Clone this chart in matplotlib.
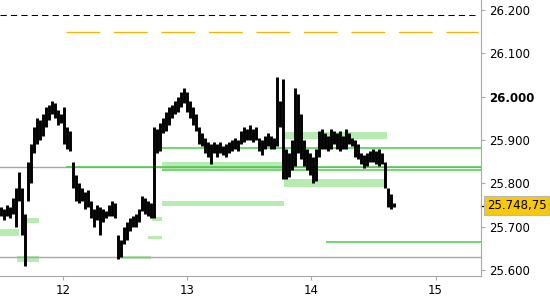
import numpy as np
import matplotlib
matplotlib.use("Agg")
import matplotlib.pyplot as plt
import matplotlib.transforms as mtransforms
from matplotlib.patches import Rectangle

# bar highs / lows (one bar every ~0.024 day)
highs = [25745, 25740, 25750, 25745, 25765, 25790, 25825, 25790, 25730, 25850,
         25890, 25930, 25950, 25945, 25960, 25975, 25980, 25990, 25985, 25970,
         25960, 25975, 25930, 25920, 25850, 25820, 25800, 25790, 25780, 25785,
         25760, 25740, 25750, 25745, 25740, 25735, 25750, 25760, 25755, 25680,
         25670, 25700, 25710, 25720, 25725, 25730, 25740, 25770, 25765, 25760,
         25755, 25930, 25925, 25940, 25950, 25965, 25975, 25980, 25990, 26000,
         26010, 26020, 26010, 25990, 25975, 25960, 25930, 25915, 25905, 25895,
         25890, 25895, 25890, 25895, 25885, 25890, 25895, 25900, 25905, 25900,
         25920, 25930, 25925, 25935, 25925, 25930, 25905, 25900, 25910, 25915,
         25910, 25905, 26045, 25990, 26040, 25880, 25870, 25900, 26020, 26005,
         25960, 25900, 25880, 25870, 25860, 25880, 25920, 25925, 25915, 25910,
         25925, 25920, 25915, 25920, 25910, 25925, 25915, 25905, 25900, 25890,
         25870, 25865, 25870, 25875, 25880, 25875, 25880, 25870, 25850, 25790,
         25775, 25755]
lows = [25725, 25715, 25725, 25720, 25730, 25700, 25760, 25680, 25610, 25760,
        25800, 25870, 25890, 25900, 25910, 25930, 25945, 25960, 25950, 25935,
        25940, 25890, 25880, 25875, 25790, 25760, 25755, 25760, 25740, 25745,
        25720, 25700, 25715, 25680, 25710, 25720, 25725, 25725, 25720, 25625,
        25630, 25660, 25670, 25690, 25700, 25700, 25710, 25735, 25730, 25725,
        25720, 25720, 25870, 25875, 25915, 25920, 25935, 25950, 25960, 25965,
        25975, 25985, 25965, 25950, 25935, 25920, 25890, 25885, 25870, 25860,
        25845, 25870, 25860, 25870, 25865, 25860, 25870, 25875, 25880, 25875,
        25890, 25895, 25900, 25900, 25895, 25900, 25875, 25865, 25880, 25885,
        25880, 25880, 25885, 25930, 25810, 25810, 25815, 25830, 25840, 25870,
        25855, 25840, 25830, 25820, 25800, 25805, 25860, 25880, 25880, 25875,
        25880, 25890, 25880, 25875, 25880, 25880, 25890, 25885, 25860, 25855,
        25845, 25835, 25840, 25850, 25850, 25845, 25840, 25845, 25790, 25745,
        25740, 25745]
t_start = 11.498
t_step = 0.02417
times = t_start + t_step * np.arange(len(highs))

last_price = 25748.75
black_level = 26188
orange_level = 26148.5
grey_levels = [25838, 25629]
green_starts = [12.795, 12.02, 12.795, 14.12]
green_levels = [25881, 25838, 25831, 25665]
zone_x0 = [11.49, 11.627, 11.70, 12.466, 12.683, 12.715, 12.795, 12.795, 13.778, 13.778]
zone_x1 = [11.643, 11.804, 11.804, 12.708, 12.795, 12.795, 13.778, 13.778, 14.608, 14.608]
zone_lo = [25679, 25619, 25709, 25625, 25672, 25714, 25748, 25833, 25902, 25792]
zone_hi = [25695, 25632, 25720, 25632, 25678, 25722, 25759, 25849, 25919, 25810]
yticks = [25600, 25700, 25800, 25900, 26000, 26100, 26200]
xticks = [12, 13, 14, 15]

plt.rcParams['font.family'] = 'DejaVu Sans'
fig = plt.figure(figsize=(5.5, 3), dpi=100)
ax = fig.add_axes([0, 1 - 275.7 / 300, 481 / 550, 275.7 / 300])
ax.set_xlim(11.49, 15.366)
ax.set_ylim(25586.8, 26223)

for x0, x1, lo, hi in zip(zone_x0, zone_x1, zone_lo, zone_hi):
    ax.add_patch(Rectangle((x0, lo), x1 - x0, hi - lo, color='#b6ebb2', lw=0, zorder=1))

for lv in grey_levels:
    ax.axhline(lv, color='#a8a8a8', lw=1.0, zorder=2)
for x0, lv in zip(green_starts, green_levels):
    ax.hlines(lv, x0, 15.366, color='#46cf46', lw=1.1, zorder=3)

ax.hlines(black_level, 11.49, 15.34, color='black', lw=0.75, linestyles=(0, (6, 4)), zorder=3)
ax.hlines(orange_level, 12.02, 15.34, color='#f5b400', lw=0.9, linestyles=(0, (27, 11)), zorder=3)

ax.vlines(times, lows, highs, color='black', lw=2.1, zorder=4)

for s in ['left', 'top']:
    ax.spines[s].set_visible(False)
for s in ['right', 'bottom']:
    ax.spines[s].set_color('#a8a8a8')
ax.yaxis.tick_right()
ax.set_yticks(yticks)
ax.set_yticklabels([f"{v:,.0f}".replace(",", ".") for v in yticks], fontsize=8.5)
for lbl in ax.get_yticklabels():
    if lbl.get_text() == "26.000":
        lbl.set_fontweight('bold')
ax.set_xticks(xticks)
ax.set_xticklabels([str(v) for v in xticks], fontsize=8.5)
ax.tick_params(axis='both', colors='#a8a8a8', length=3, width=0.8, labelcolor='black', pad=3)

tr = mtransforms.blended_transform_factory(ax.transAxes, ax.transData)
ax.plot([1.0, 1.008], [last_price, last_price], color='black', lw=0.9, transform=tr, clip_on=False)
ax.text(1.012, last_price, "25.748,75", transform=tr, fontsize=8.5, va='center', ha='left',
        bbox=dict(boxstyle='square,pad=0.25', fc='#f8c80c', ec='#b8b8b8', lw=0.8), zorder=6)

fig.savefig("out.png", dpi=100)
